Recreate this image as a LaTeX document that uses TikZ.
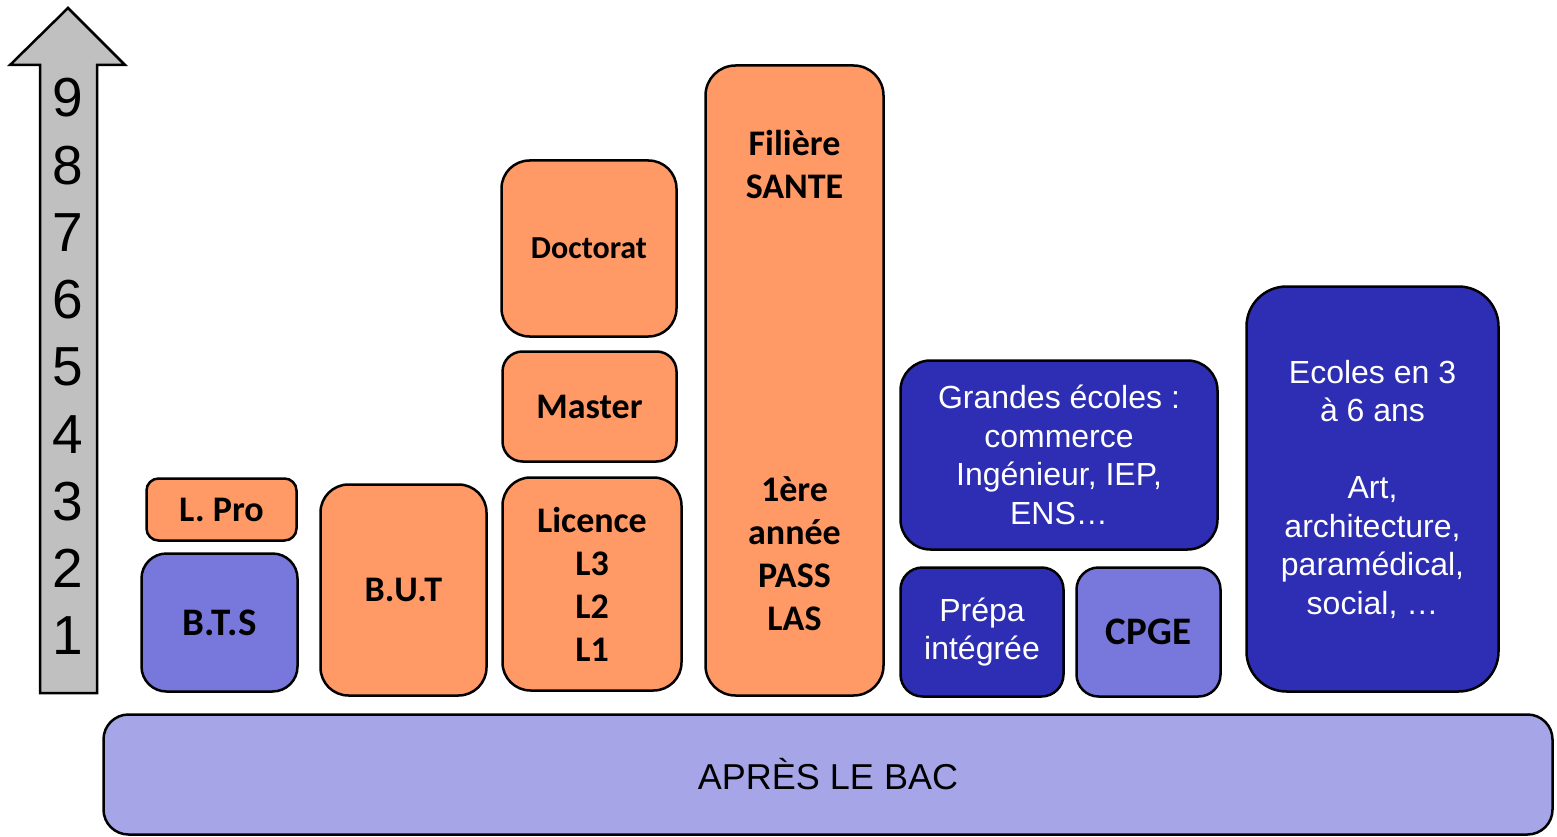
\documentclass[tikz,border=0pt]{standalone}
\usepackage{fontspec}
\setmainfont{Liberation Sans}
\newfontfamily\calibri{Carlito}

\definecolor{orangefill}{HTML}{FF9966}
\definecolor{lightpurple}{HTML}{7878DC}
\definecolor{darkblue}{HTML}{2E2EB4}
\definecolor{barfill}{HTML}{A5A5E8}
\definecolor{arrowgray}{HTML}{C0C0C0}

\tikzstyle{box}=[draw=black,line width=2.5pt,inner sep=0pt,align=center]
\tikzstyle{orangebox}=[box,fill=orangefill,font=\calibri\bfseries\fontsize{36}{43}\selectfont]
\tikzstyle{purplebox}=[box,fill=lightpurple,font=\calibri\bfseries\fontsize{39}{45}\selectfont]
\tikzstyle{bluebox}=[box,fill=darkblue,text=white,font=\fontsize{32}{38.5}\selectfont]
\tikzstyle{level}=[font=\fontsize{55}{60}\selectfont,inner sep=0pt]

\begin{document}
\begin{tikzpicture}[x=1pt,y=-1pt]

   \useasboundingbox (0,0) rectangle (1557,837);

% Years arrow
   \draw[line width=2.5pt,fill=arrowgray,line join=miter] (68,8) coordinate(tip)
-- (125,65) -- (97,65) -- (97,693) -- (40,693) -- (40,65) -- (10,65) -- cycle;

   \foreach \n in {1,...,9}
      \node[level] (year\n) at (68,{636-(\n-1)*67.25}) {\n};

% Short courses
   \node[orangebox,rounded corners=12pt,minimum width=150pt,minimum height=62pt]
      (lpro) at (221.5,509.5) {L. Pro};
   \node[purplebox,rounded corners=25pt,minimum width=156pt,minimum height=138pt]
      (bts) at (219.5,622.5) {B.T.S};
   \node[orangebox,rounded corners=28pt,minimum width=166pt,minimum height=211pt]
      (but) at (403.5,590) {B.U.T};

% University
   \node[orangebox,rounded corners=28pt,minimum width=179pt,minimum height=213pt]
      (licence) at (592,584) {Licence\\L3\\L2\\L1};
   \node[orangebox,rounded corners=20pt,minimum width=174pt,minimum height=110pt]
      (master) at (589.5,406.5) {Master};
   \node[orangebox,rounded corners=28pt,minimum width=175pt,minimum height=176pt,
      font=\calibri\bfseries\fontsize{32}{38}\selectfont]
      (doctorat) at (589,248.5) {Doctorat};
   \node[orangebox,rounded corners=30pt,minimum width=178pt,minimum height=630pt]
      (sante) at (794.5,380.5) {Filière\\SANTE\\[260pt]1ère\\année\\PASS\\LAS};

% Schools
   \node[bluebox,rounded corners=30pt,minimum width=317pt,minimum height=189pt]
      (grandes) at (1059,455) {Grandes écoles :\\commerce\\Ingénieur, IEP,\\ENS…};
   \node[bluebox,rounded corners=22pt,minimum width=163pt,minimum height=129pt]
      (prepa) at (982,632) {Prépa\\intégrée};
   \node[purplebox,rounded corners=22pt,minimum width=144pt,minimum height=129pt]
      (cpge) at (1148.5,632) {CPGE};
   \node[bluebox,rounded corners=40pt,minimum width=252pt,minimum height=405pt]
      (ecoles) at (1372.5,489) {Ecoles en 3\\à 6 ans\\[38.5pt]Art,\\architecture,\\paramédical,\\social, …};

% Base
   \node[box,fill=barfill,rounded corners=25pt,minimum width=1449pt,minimum height=120pt,
      font=\fontsize{36}{40}\selectfont]
      (bac) at (828,774.5) {APRÈS LE BAC};

\end{tikzpicture}
\end{document}
